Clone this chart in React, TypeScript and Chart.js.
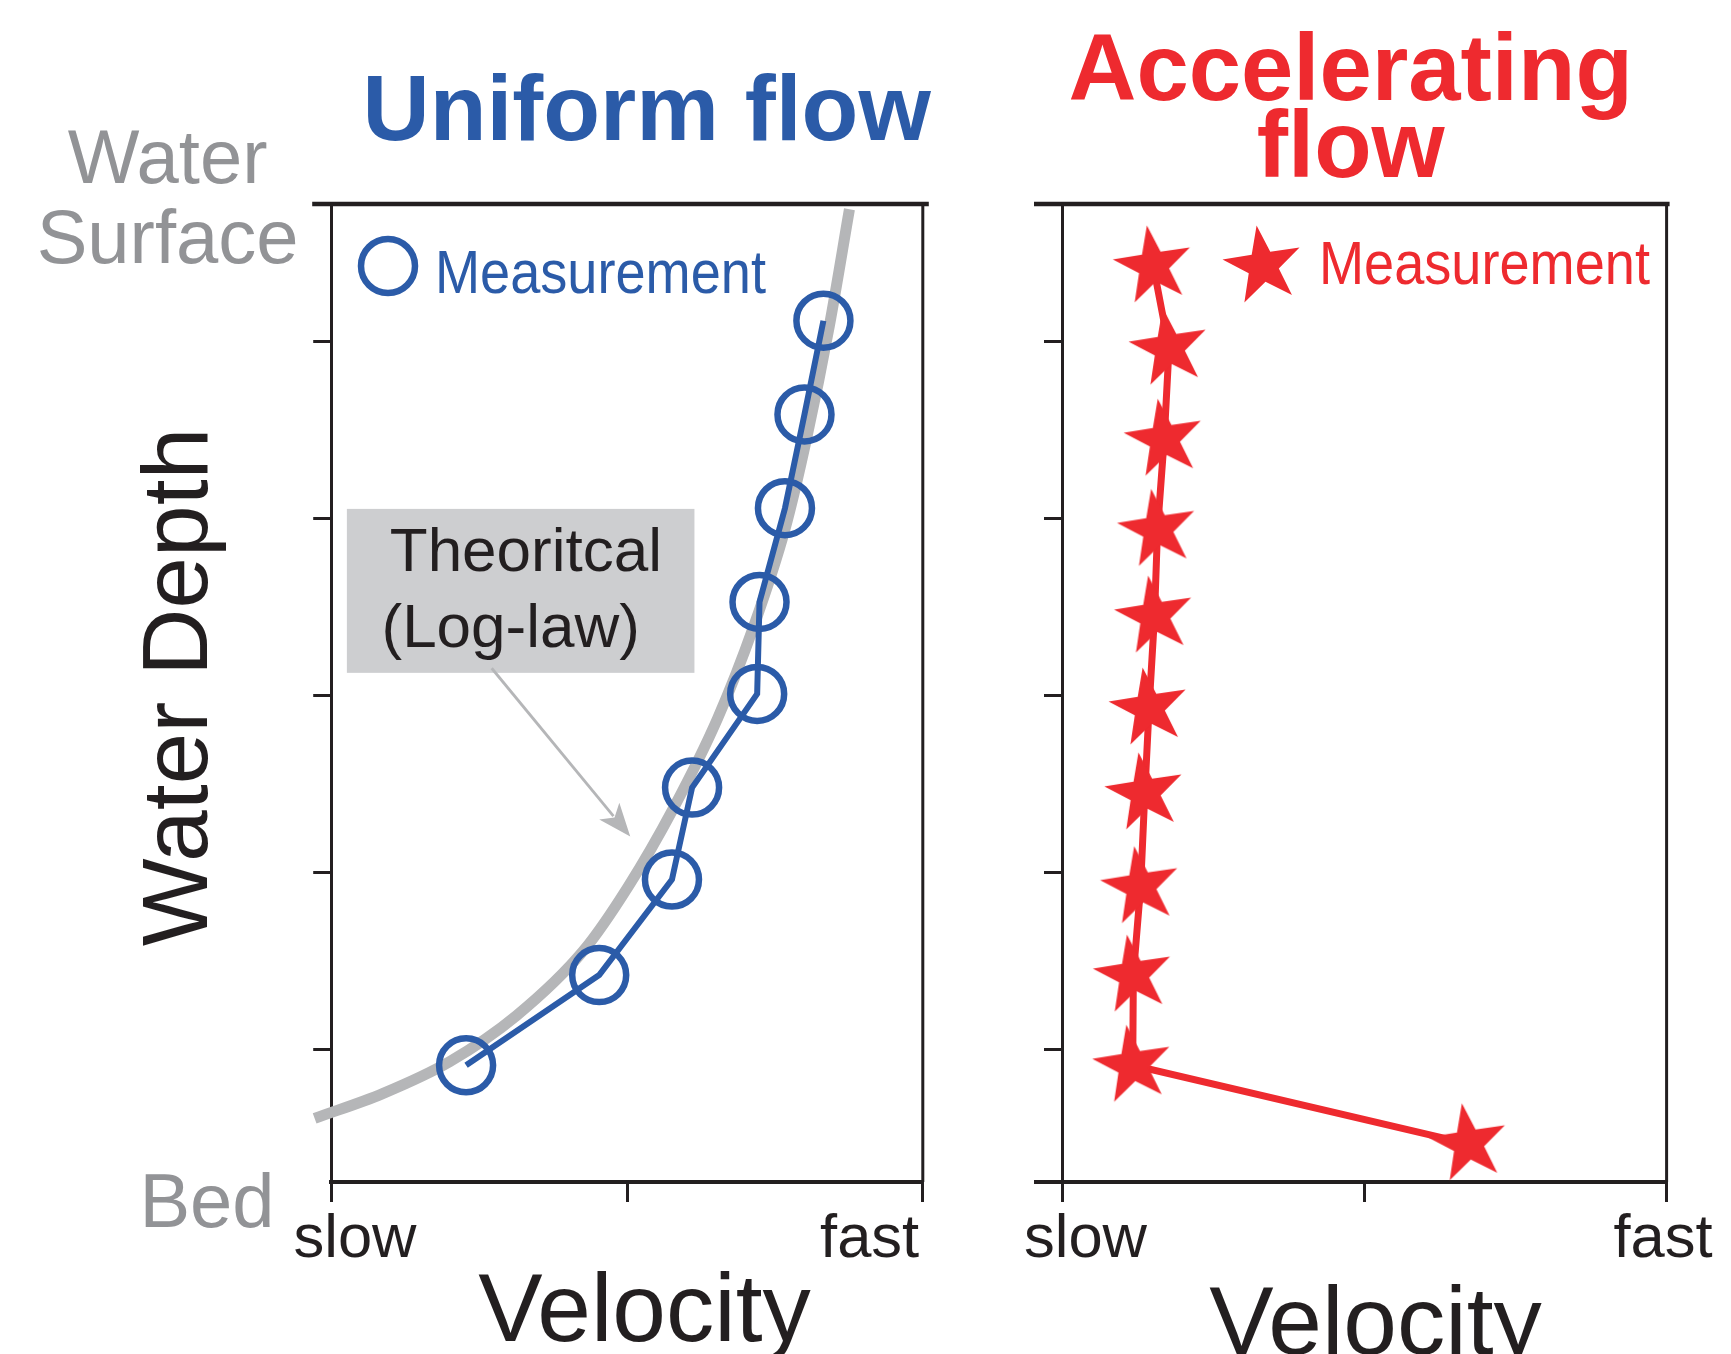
import React, { useEffect, useRef } from "react";
import { Chart, registerables } from "chart.js";

Chart.register(...registerables);

// ---------- data ----------
const velocityTicks = [0, 5, 10];
const velocityTickLabels = ["slow", "", "fast"];
const depthTicks = [1, 2, 3, 4, 5];
const VEL_MIN = 0;
const VEL_MAX = 10;
const DEPTH_MIN = 0.25;
const DEPTH_MAX = 5.78;

// Uniform flow measurements
const uniformVelocity = [2.28, 4.53, 5.76, 6.1, 7.2, 7.24, 7.67, 8.0, 8.32];
const uniformDepth = [0.91, 1.42, 1.96, 2.48, 3.01, 3.53, 4.06, 4.59, 5.12];

// Theoretical log-law curve
const logLawVelocity = [-0.28, 0.87, 2.0, 3.13, 4.27, 5.02, 5.78, 6.53, 7.14, 7.67, 8.04, 8.42, 8.76];
const logLawDepth = [0.61, 0.75, 0.93, 1.19, 1.56, 1.92, 2.36, 2.87, 3.39, 3.94, 4.46, 5.09, 5.75];

// Accelerating flow measurements
const accelVelocity = [1.51, 1.77, 1.69, 1.58, 1.53, 1.44, 1.37, 1.3, 1.18, 1.17, 6.72];
const accelDepth = [5.43, 4.965, 4.45, 3.94, 3.45, 2.93, 2.45, 1.92, 1.42, 0.91, 0.466];

// annotation (in data units of the left chart)
const annoBox = { x0: 0.265, x1: 6.14, y0: 4.056, y1: 3.129 };
const annoLines = [
  { text: "Theoritcal", x: 0.99, y: 3.705 },
  { text: "(Log-law)", x: 0.85, y: 3.277 },
];
const annoArrow = { x0: 2.713, y0: 3.155, x1: 5.055, y1: 2.203 };

// ---------- styles ----------
const FONT = '"Liberation Sans", Arial, Helvetica, sans-serif';
const BLUE = "#2b5ba8";
const RED = "#ee2a2f";
const CURVE_GRAY = "#b5b6b8";
const LABEL_GRAY = "#929396";
const BOX_GRAY = "#cdced0";
const INK = "#231f20";

function drawText(
  ctx: CanvasRenderingContext2D,
  str: string,
  x: number,
  y: number,
  font: string,
  color: string,
  align: CanvasTextAlign = "left",
  scaleX = 1,
  rotate = 0
) {
  ctx.save();
  ctx.font = font;
  ctx.fillStyle = color;
  ctx.textAlign = align;
  ctx.textBaseline = "alphabetic";
  ctx.translate(x, y);
  if (rotate) ctx.rotate(rotate);
  ctx.scale(scaleX, 1);
  ctx.fillText(str, 0, 0);
  ctx.restore();
}

function makeStar(R: number, color: string, rotDeg: number): HTMLCanvasElement {
  const size = Math.ceil(R * 2 + 6);
  const c = document.createElement("canvas");
  c.width = size;
  c.height = size;
  const ctx = c.getContext("2d")!;
  const cx = size / 2;
  const cy = size / 2;
  const r = R * 0.39;
  ctx.beginPath();
  for (let k = 0; k < 10; k++) {
    const ang = ((-90 + rotDeg + k * 36) * Math.PI) / 180;
    const rad = k % 2 === 0 ? R : r;
    const px = cx + rad * Math.cos(ang);
    const py = cy + rad * Math.sin(ang);
    if (k === 0) ctx.moveTo(px, py);
    else ctx.lineTo(px, py);
  }
  ctx.closePath();
  ctx.fillStyle = color;
  ctx.fill();
  return c;
}

function makeScales() {
  const grid = (len: number) => ({
    display: true,
    drawOnChartArea: false,
    drawTicks: true,
    tickLength: len,
    tickWidth: 3,
    tickColor: INK,
    color: INK,
    lineWidth: 3,
  });
  return {
    x: {
      type: "linear" as const,
      min: VEL_MIN,
      max: VEL_MAX,
      afterBuildTicks: (s: any) => {
        s.ticks = velocityTicks.map((v) => ({ value: v }));
      },
      afterFit: (s: any) => {
        s.height = 30;
      },
      ticks: { display: false },
      grid: grid(20),
      border: { display: true, width: 4, color: INK },
    },
    y: {
      type: "linear" as const,
      min: DEPTH_MIN,
      max: DEPTH_MAX,
      afterBuildTicks: (s: any) => {
        s.ticks = depthTicks.map((v) => ({ value: v }));
      },
      afterFit: (s: any) => {
        s.width = 30;
      },
      ticks: { display: false },
      grid: grid(18),
      border: { display: true, width: 3, color: INK },
    },
  };
}

function drawTickLabels(chart: any, slowDx: number, fastDx: number) {
  const ctx = chart.ctx as CanvasRenderingContext2D;
  const xs = chart.scales.x;
  const ca = chart.chartArea;
  const base = ca.bottom + 74.7;
  velocityTicks.forEach((v, i) => {
    const label = velocityTickLabels[i];
    if (!label) return;
    const px = xs.getPixelForValue(v);
    if (i === 0) drawText(ctx, label, px + slowDx, base, `61.5px ${FONT}`, INK, "left");
    else drawText(ctx, label, px + fastDx, base, `61.5px ${FONT}`, INK, "right");
  });
}

export default function App() {
  const leftRef = useRef<HTMLCanvasElement>(null);
  const rightRef = useRef<HTMLCanvasElement>(null);

  useEffect(() => {
    document.body.style.margin = "0";
    document.body.style.overflow = "hidden";
    const star = makeStar(41, RED, -9);

    const leftPlugin = {
      id: "leftDeco",
      beforeDatasetsDraw(chart: any) {
        const ctx = chart.ctx as CanvasRenderingContext2D;
        const xs = chart.scales.x;
        const ys = chart.scales.y;
        const bx0 = xs.getPixelForValue(annoBox.x0);
        const bx1 = xs.getPixelForValue(annoBox.x1);
        const by0 = ys.getPixelForValue(annoBox.y0);
        const by1 = ys.getPixelForValue(annoBox.y1);
        ctx.save();
        ctx.fillStyle = BOX_GRAY;
        ctx.fillRect(bx0, by0, bx1 - bx0, by1 - by0);
        ctx.restore();
        annoLines.forEach((l) =>
          drawText(ctx, l.text, xs.getPixelForValue(l.x), ys.getPixelForValue(l.y), `62px ${FONT}`, INK, "left")
        );
        const ax0 = xs.getPixelForValue(annoArrow.x0);
        const ay0 = ys.getPixelForValue(annoArrow.y0);
        const ax1 = xs.getPixelForValue(annoArrow.x1);
        const ay1 = ys.getPixelForValue(annoArrow.y1);
        const dx = ax1 - ax0;
        const dy = ay1 - ay0;
        const len = Math.hypot(dx, dy);
        const ux = dx / len;
        const uy = dy / len;
        const hl = 33;
        const hw = 13;
        ctx.save();
        ctx.strokeStyle = CURVE_GRAY;
        ctx.fillStyle = CURVE_GRAY;
        ctx.lineWidth = 2.8;
        ctx.beginPath();
        ctx.moveTo(ax0, ay0);
        ctx.lineTo(ax1 - ux * hl * 0.8, ay1 - uy * hl * 0.8);
        ctx.stroke();
        ctx.beginPath();
        ctx.moveTo(ax1, ay1);
        ctx.lineTo(ax1 - ux * hl - uy * hw, ay1 - uy * hl + ux * hw);
        ctx.lineTo(ax1 - ux * hl * 0.75, ay1 - uy * hl * 0.75);
        ctx.lineTo(ax1 - ux * hl + uy * hw, ay1 - uy * hl - ux * hw);
        ctx.closePath();
        ctx.fill();
        ctx.restore();
      },
      afterDraw(chart: any) {
        const ctx = chart.ctx as CanvasRenderingContext2D;
        const ca = chart.chartArea;
        ctx.save();
        ctx.strokeStyle = INK;
        ctx.lineWidth = 4.5;
        ctx.beginPath();
        ctx.moveTo(ca.left - 19, ca.top);
        ctx.lineTo(ca.right + 6, ca.top);
        ctx.stroke();
        ctx.lineWidth = 3;
        ctx.beginPath();
        ctx.moveTo(ca.right, ca.top);
        ctx.lineTo(ca.right, ca.bottom);
        ctx.stroke();
        ctx.restore();

        drawTickLabels(chart, -37.7, -3.6);

        ctx.save();
        ctx.strokeStyle = BLUE;
        ctx.lineWidth = 6.5;
        ctx.beginPath();
        ctx.arc(388, 266, 27, 0, Math.PI * 2);
        ctx.stroke();
        ctx.restore();
        drawText(ctx, "Measurement", 435, 292.5, `62px ${FONT}`, BLUE, "left", 0.873);

        drawText(ctx, "Uniform flow", 362.5, 140, `bold 93px ${FONT}`, BLUE, "left");
        drawText(ctx, "Water", 167.6, 183.3, `76px ${FONT}`, LABEL_GRAY, "center");
        drawText(ctx, "Surface", 167.6, 262.7, `76px ${FONT}`, LABEL_GRAY, "center");
        drawText(ctx, "Bed", 207, 1226.7, `76px ${FONT}`, LABEL_GRAY, "center");
        drawText(ctx, "Water Depth", 206.7, 687, `93px ${FONT}`, INK, "center", 1, -Math.PI / 2);
        drawText(ctx, "Velocity", 644.5, 1341, `96.5px ${FONT}`, INK, "center");
      },
    };

    const rightPlugin = {
      id: "rightDeco",
      afterDraw(chart: any) {
        const ctx = chart.ctx as CanvasRenderingContext2D;
        const ca = chart.chartArea;
        ctx.save();
        ctx.strokeStyle = INK;
        ctx.lineWidth = 4.5;
        ctx.beginPath();
        ctx.moveTo(ca.left - 28, ca.top);
        ctx.lineTo(ca.right + 3, ca.top);
        ctx.stroke();
        ctx.lineWidth = 4;
        ctx.beginPath();
        ctx.moveTo(ca.left - 28, ca.bottom);
        ctx.lineTo(ca.left, ca.bottom);
        ctx.stroke();
        ctx.lineWidth = 3;
        ctx.beginPath();
        ctx.moveTo(ca.right, ca.top);
        ctx.lineTo(ca.right, ca.bottom);
        ctx.stroke();
        ctx.restore();

        drawTickLabels(chart, -38, 46);

        ctx.drawImage(star, 263 - star.width / 2, 266 - star.height / 2);
        drawText(ctx, "Measurement", 319, 284, `62px ${FONT}`, RED, "left", 0.873);

        drawText(ctx, "Accelerating", 350.7, 100, `bold 94px ${FONT}`, RED, "center");
        drawText(ctx, "flow", 350.7, 176.7, `bold 94px ${FONT}`, RED, "center");
        drawText(ctx, "Velocity", 375.5, 1354, `96.5px ${FONT}`, INK, "center");
      },
    };

    const common = {
      responsive: false,
      maintainAspectRatio: false,
      animation: false as const,
      events: [] as any[],
      plugins: { legend: { display: false }, tooltip: { enabled: false } },
    };

    const c1 = new Chart(leftRef.current!, {
      type: "line",
      data: {
        datasets: [
          {
            label: "Measurement",
            data: uniformVelocity.map((v, i) => ({ x: v, y: uniformDepth[i] })),
            borderColor: BLUE,
            borderWidth: 6,
            pointStyle: "circle",
            pointRadius: 27,
            pointBorderWidth: 6.5,
            pointBorderColor: BLUE,
            pointBackgroundColor: "rgba(0,0,0,0)",
            tension: 0,
            clip: false as any,
          },
          {
            label: "Theoritcal (Log-law)",
            data: logLawVelocity.map((v, i) => ({ x: v, y: logLawDepth[i] })),
            borderColor: CURVE_GRAY,
            borderWidth: 11,
            pointRadius: 0,
            cubicInterpolationMode: "monotone",
            clip: false as any,
          },
        ],
      },
      options: {
        ...common,
        layout: { padding: { left: 301.2, right: 77.2, top: 204, bottom: 142 } },
        scales: makeScales() as any,
      },
      plugins: [leftPlugin],
    } as any);

    const c2 = new Chart(rightRef.current!, {
      type: "line",
      data: {
        datasets: [
          {
            label: "Measurement",
            data: accelVelocity.map((v, i) => ({ x: v, y: accelDepth[i] })),
            borderColor: RED,
            borderWidth: 7,
            pointStyle: star,
            pointRadius: 41,
            tension: 0,
            clip: false as any,
          },
        ],
      },
      options: {
        ...common,
        layout: { padding: { left: 32, right: 64.4, top: 204, bottom: 142 } },
        scales: makeScales() as any,
      },
      plugins: [rightPlugin],
    } as any);

    return () => {
      c1.destroy();
      c2.destroy();
    };
  }, []);

  return (
    <div style={{ position: "relative", width: 1731, height: 1354, background: "#ffffff", overflow: "hidden" }}>
      <canvas
        ref={leftRef}
        width={1000}
        height={1354}
        style={{ position: "absolute", left: 0, top: 0, width: 1000, height: 1354 }}
      />
      <canvas
        ref={rightRef}
        width={731}
        height={1354}
        style={{ position: "absolute", left: 1000, top: 0, width: 731, height: 1354 }}
      />
    </div>
  );
}
